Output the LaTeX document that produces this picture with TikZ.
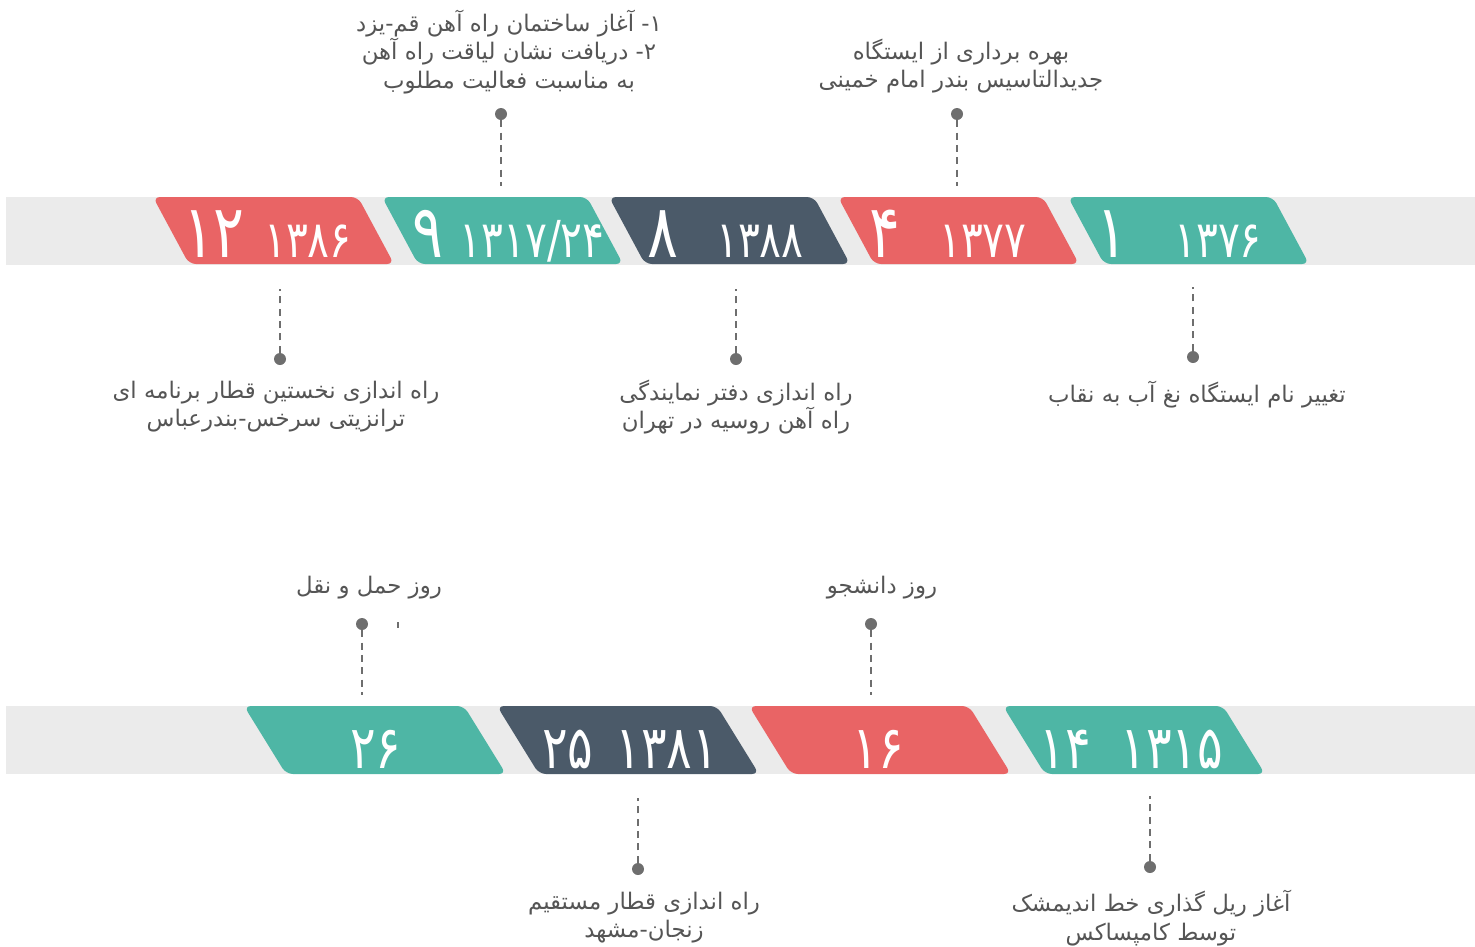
\documentclass[tikz,border=0pt]{standalone}
\usepackage{fontspec}
\usetikzlibrary{positioning}
\TeXXeTstate=1
\newfontfamily\farsifont[Script=Arabic]{DejaVu Sans}
\newfontfamily\bignumfont[Script=Arabic,FakeStretch=0.78]{DejaVu Sans}
\newfontfamily\numfont[Script=Arabic,FakeStretch=0.8]{DejaVu Sans}
\newcommand{\rtl}[1]{\beginR #1\endR}
\definecolor{tagred}{RGB}{233,100,101}
\definecolor{tagteal}{RGB}{78,182,165}
\definecolor{tagdark}{RGB}{75,90,105}
\definecolor{band}{RGB}{235,235,235}
\definecolor{dotgrey}{RGB}{110,110,110}
\definecolor{textgrey}{RGB}{85,85,85}

\begin{document}
\begin{tikzpicture}[x=0.02cm, y=-0.02cm,
        dot/.style={circle, fill=dotgrey, inner sep=0pt, minimum size=0.24cm},
        connector/.style={dotgrey, line width=1.1pt, dash pattern=on 4pt off 3pt},
        eventtext/.style={text=textgrey, align=center, inner sep=0pt,
            font=\farsifont\fontsize{13}{16}\selectfont},
        bignum/.style={white, inner sep=0pt, anchor=base, font=\bignumfont\fontsize{42}{42}\selectfont},
        yearnum/.style={white, inner sep=0pt, anchor=base, font=\numfont\fontsize{29}{29}\selectfont},
        lownum/.style={white, inner sep=0pt, anchor=base, font=\numfont\fontsize{34}{34}\selectfont}]

            \useasboundingbox (0,0) rectangle (1475,947);

                % Bands:
                \fill[band] (6,197) rectangle (1475,265);
                \fill[band] (6,706) rectangle (1475,774);

                % Tags:
                \foreach \x/\c in {153/tagred, 382/tagteal, 609/tagdark, 838/tagred, 1068/tagteal}
                    \fill[\c, rounded corners=4pt] (\x,197) -- ++(205,0) -- ++(36,67) -- ++(-205,0) -- cycle;
                \foreach \x/\c in {244/tagteal, 497/tagdark, 749/tagred, 1003/tagteal}
                    \fill[\c, rounded corners=4pt] (\x,706) -- ++(220,0) -- ++(42,68) -- ++(-220,0) -- cycle;

                % Numbers, top row:
                \node[bignum] (n12) at (214,257) {۱۲};
                \node[yearnum] (y1386) at (308,257) {۱۳۸۶};
                \node[bignum] (n9) at (428,257) {۹};
                \node[yearnum] (y1317) at (532,257) {۱۳۱۷/۲۴};
                \node[bignum] (n8) at (663,257) {۸};
                \node[yearnum] (y1388) at (760,257) {۱۳۸۸};
                \node[bignum] (n4) at (885,257) {۴};
                \node[yearnum] (y1377) at (983,257) {۱۳۷۷};
                \node[bignum] (n1) at (1112,257) {۱};
                \node[yearnum] (y1376) at (1218,257) {۱۳۷۶};

                % Numbers, bottom row:
                \node[lownum] (n26) at (376,768) {۲۶};
                \node[lownum] (n25) at (568,768) {۲۵};
                \node[lownum] (y1381) at (667,768) {۱۳۸۱};
                \node[lownum] (n16) at (878,768) {۱۶};
                \node[lownum] (n14) at (1065,768) {۱۴};
                \node[lownum] (y1315) at (1172,768) {۱۳۱۵};

                % Dots and dashed connectors:
                \node[dot] (dA) at (501,114) {};
                \coordinate (cA) at (501,186);
                \draw[connector] (dA) -- (cA);
                \node[dot] (dB) at (957,114) {};
                \coordinate (cB) at (957,186);
                \draw[connector] (dB) -- (cB);
                \node[dot] (dC) at (280,359) {};
                \coordinate (cC) at (280,289);
                \draw[connector] (dC) -- (cC);
                \node[dot] (dD) at (736,359) {};
                \coordinate (cD) at (736,289);
                \draw[connector] (dD) -- (cD);
                \node[dot] (dE) at (1193,357) {};
                \coordinate (cE) at (1193,287);
                \draw[connector] (dE) -- (cE);
                \node[dot] (dF) at (362,624) {};
                \coordinate (cF) at (362,695);
                \draw[connector] (dF) -- (cF);
                \node[dot] (dG) at (871,624) {};
                \coordinate (cG) at (871,695);
                \draw[connector] (dG) -- (cG);
                \node[dot] (dH) at (638,869) {};
                \coordinate (cH) at (638,798);
                \draw[connector] (dH) -- (cH);
                \node[dot] (dI) at (1150,867) {};
                \coordinate (cI) at (1150,796);
                \draw[connector] (dI) -- (cI);
                \draw[dotgrey, line width=1pt] (398,622) -- (398,628);

                % Texts:
                \node[eventtext] (tA) at (509,52) {\rtl{۱- آغاز ساختمان راه آهن قم-یزد}\\\rtl{۲- دریافت نشان لیاقت راه آهن}\\\rtl{به مناسبت فعالیت مطلوب}};
                \node[eventtext] (tB) at (961,66) {\rtl{بهره برداری از ایستگاه}\\\rtl{جدیدالتاسیس بندر امام خمینی}};
                \node[eventtext] (tC) at (276,407) {\rtl{راه اندازی نخستین قطار برنامه ای}\\\rtl{ترانزیتی سرخس-بندرعباس}};
                \node[eventtext] (tD) at (736,407) {\rtl{راه اندازی دفتر نمایندگی}\\\rtl{راه آهن روسیه در تهران}};
                \node[eventtext] (tE) at (1197,395) {\rtl{تغییر نام ایستگاه نغ آب به نقاب}};
                \node[eventtext] (tF) at (369,588) {\rtl{روز حمل و نقل}};
                \node[eventtext] (tG) at (882,588) {\rtl{روز دانشجو}};
                \node[eventtext] (tH) at (644,918) {\rtl{راه اندازی قطار مستقیم}\\\rtl{زنجان-مشهد}};
                \node[eventtext] (tI) at (1151,918) {\rtl{آغاز ریل گذاری خط اندیمشک}\\\rtl{توسط کامپساکس}};
            \end{tikzpicture}
\end{document}
